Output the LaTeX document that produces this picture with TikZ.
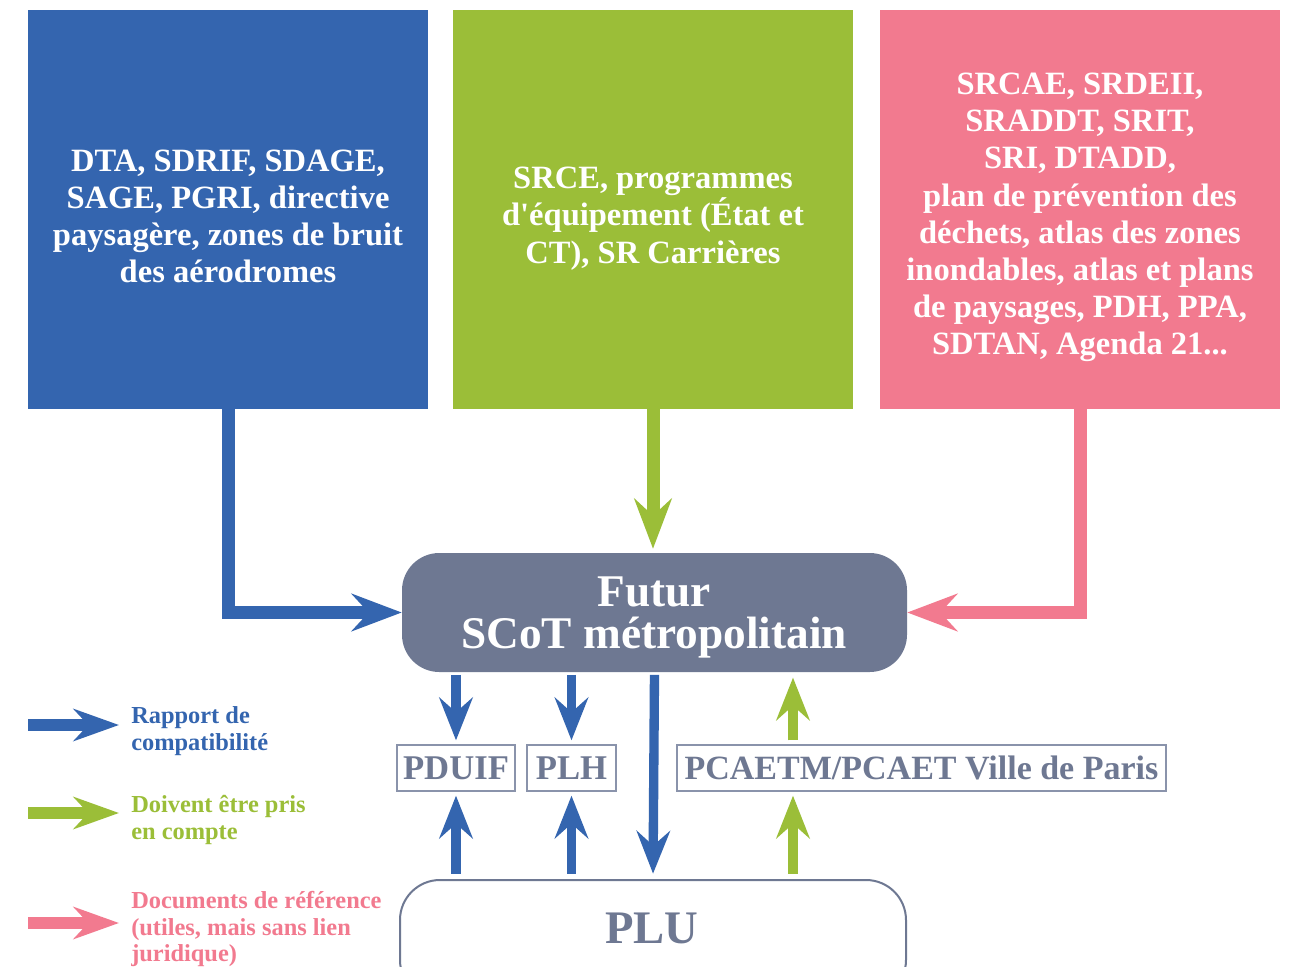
\documentclass[tikz,border=0pt]{standalone}
\usepackage{fontspec}
\setmainfont{Liberation Serif}
\usepackage{xcolor}
\usetikzlibrary{positioning, arrows.meta, calc}

\definecolor{scotblue}{RGB}{52,101,175}
\definecolor{scotgreen}{RGB}{155,190,56}
\definecolor{scotpink}{RGB}{242,122,143}
\definecolor{scotslate}{RGB}{110,120,146}
\definecolor{scotframe}{RGB}{138,147,171}

\begin{document}
\begin{tikzpicture}[
        x=0.75pt, y=-0.75pt,
        font=\bfseries,
        docbox/.style={fill=#1, text=white, minimum width=300pt, minimum height=299.25pt,
            align=center, inner sep=0pt, font=\bfseries\fontsize{24.4}{27.9}\selectfont},
        planbox/.style={draw=scotframe, line width=1pt, minimum height=34.5pt, inner sep=0pt,
            text=scotslate, font=\bfseries\fontsize{26}{28}\selectfont},
        legtext/.style={anchor=west, align=left, inner sep=0pt, text=#1,
            font=\bfseries\fontsize{18.3}{20}\selectfont},
        bigarr/.style={draw=#1, line width=9.75pt,
            -{Stealth[length=37.5pt, width=28pt, inset=12.75pt]}},
        smallarr/.style={draw=#1, line width=7pt,
            -{Stealth[length=32pt, width=25pt, inset=11pt]}},
        legarr/.style={draw=#1, line width=8.5pt,
            -{Stealth[length=34pt, width=24pt, inset=11pt]}},
    ]
    \clip (0,0) rectangle (1290,967);
    \fill[white] (0,0) rectangle (1290,967);

    % Top documents
    \node[docbox=scotblue] (sdrif) at (228,209.5) {};
    \node[docbox=scotgreen] (srce) at (653,209.5) {};
    \node[docbox=scotpink] (srcae) at (1080,209.5) {};
    \node[docbox=scotblue, fill=none, minimum size=0pt] (sdriftext) at (228,216.5)
        {DTA, SDRIF, SDAGE,\\SAGE, PGRI, directive\\paysagère, zones de bruit\\des aérodromes};
    \node[docbox=scotgreen, fill=none, minimum size=0pt] (srcetext) at (653,218.5)
        {SRCE, programmes\\d\textquotesingle équipement (État et\\CT), SR Carrières};
    \node[docbox=scotpink, fill=none, minimum size=0pt] (srcaetext) at (1080,217.5)
        {SRCAE, SRDEII,\\SRADDT, SRIT,\\SRI, DTADD,\\plan de prévention des\\déchets, atlas des zones\\inondables, atlas et plans\\de paysages, PDH, PPA,\\SDTAN, Agenda 21...};

    % Futur SCoT
    \node[fill=scotslate, rounded corners=28pt, minimum width=378.75pt, minimum height=89.25pt] (scot) at (654.5,612.5) {};
    \node[text=white, align=center, font=\bfseries\fontsize{34}{31.5}\selectfont] (scottext) at (654,617)
        {Futur\\SCoT métropolitain};

    % Plans in between
    \node[planbox, minimum width=88.5pt] (pduif) at (456,768) {PDUIF};
    \node[planbox, minimum width=66.75pt] (plh) at (571.5,768) {PLH};
    \node[planbox, minimum width=366.75pt, font=\bfseries\fontsize{25.5}{28}\selectfont] (pcaet) at (921.5,768) {PCAETM/PCAET Ville de Paris};

    % PLU
    \node[draw=scotslate, line width=1.5pt, fill=white, rounded corners=30pt,
        minimum width=379.5pt, minimum height=90pt] (plu) at (653,940) {};
    \node[text=scotslate, font=\bfseries\fontsize{35}{36}\selectfont] (plutext) at (652,928) {PLU};

    % Arrows into the SCoT
    \draw[bigarr=scotblue] (sdrif.south) |- (scot.west);
    \draw[bigarr=scotgreen, shorten >=3pt] (srce.south) -- (srce.south |- scot.north);
    \draw[bigarr=scotpink] (srcae.south) |- (scot.east);

    % SCoT and plans
    \draw[smallarr=scotblue, shorten <=2pt, shorten >=3pt] (scot.south -| pduif) -- (pduif.north);
    \draw[smallarr=scotblue, shorten <=2pt, shorten >=3pt] (scot.south -| plh) -- (plh.north);
    \draw[smallarr=scotblue, shorten <=2pt, shorten >=4pt] (scot.south) -- (plu.north);
    \draw[smallarr=scotgreen, shorten <=3pt, shorten >=4pt] (pcaet.north -| 793,0) -- (scot.south -| 793,0);
    \draw[smallarr=scotblue, shorten <=4pt, shorten >=3pt] (plu.north -| pduif) -- (pduif.south);
    \draw[smallarr=scotblue, shorten <=4pt, shorten >=3pt] (plu.north -| plh) -- (plh.south);
    \draw[smallarr=scotgreen, shorten <=4pt, shorten >=3pt] (plu.north -| 793,0) -- (pcaet.south -| 793,0);

    % Legend
    \node[legtext=scotblue] (leg1) at (131,731) {Rapport de\\compatibilité};
    \node[legtext=scotgreen] (leg2) at (131,820) {Doivent être pris\\en compte};
    \node[legtext=scotpink] (leg3) at (131,929) {Documents de référence\\(utiles, mais sans lien\\juridique)};
    \coordinate (l1) at (28,725);
    \coordinate (l2) at (28,813);
    \coordinate (l3) at (28,923);
    \draw[legarr=scotblue, shorten >=9pt] (l1) -- (l1 -| leg1.west);
    \draw[legarr=scotgreen, shorten >=9pt] (l2) -- (l2 -| leg2.west);
    \draw[legarr=scotpink, shorten >=9pt] (l3) -- (l3 -| leg3.west);
\end{tikzpicture}
\end{document}
